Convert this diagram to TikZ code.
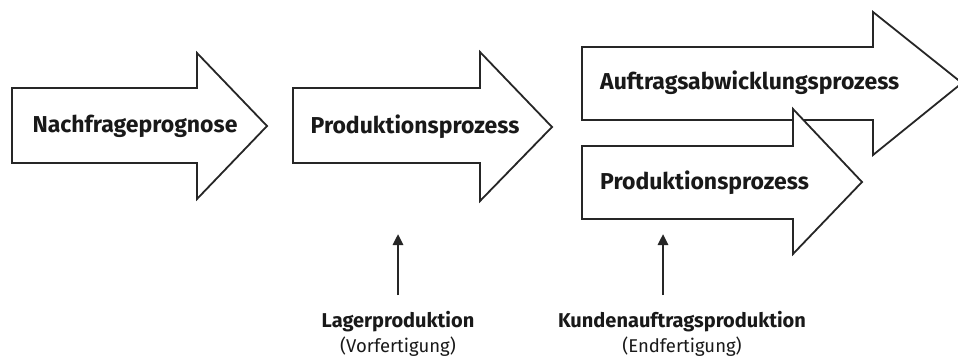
\documentclass[tikz,border=0pt]{standalone}
\usepackage{fontspec}
\setmainfont{Fira Sans}
\usetikzlibrary{arrows.meta}
\begin{document}
\begin{tikzpicture}[x=1pt,y=-1pt,
  block/.style={draw=black!85, line width=1.8pt, fill=white, line join=miter},
  title/.style={font=\fontsize{23}{26}\selectfont\bfseries, text=black!90, inner sep=0pt},
  caption/.style={font=\fontsize{18.5}{21}\selectfont, text=black!90, inner sep=0pt, align=center},
  feed/.style={line width=2.6pt, draw=black!85, -{Triangle[length=11pt,width=10pt]}}]
\clip (0,0) rectangle (958,361);
\fill[white] (0,0) rectangle (958,361);

% forecast-driven chain
\draw[block] (12,88) -- (197,88) -- (197,53) -- (267,126) -- (197,199) -- (197,163) -- (12,163) -- cycle;
\node[title] (nach) at (135,126) {Nachfrageprognose};

\draw[block] (293,88) -- (480,88) -- (480,52) -- (552,127) -- (480,201) -- (480,163) -- (293,163) -- cycle;
\node[title] (prod1) at (415,127) {Produktionsprozess};

% order-driven chain: order processing, with production drawn on top
\draw[block] (582,47) -- (873,47) -- (873,12) -- (962,83) -- (873,155) -- (873,120) -- (582,120) -- cycle;
\node[title, anchor=west] (auftrag) at (600,83) {Auftragsabwicklungsprozess};

\draw[block] (582,146) -- (793,146) -- (793,109) -- (862,182) -- (793,254) -- (793,219) -- (582,219) -- cycle;
\node[title, anchor=west] (prod2) at (600,183) {Produktionsprozess};

% decoupling labels
\node[caption] (lager) at (398,334) {{\fontsize{20}{22}\selectfont\bfseries Lagerproduktion}\\[4pt](Vorfertigung)};
\node[caption] (kunde) at (682,334) {{\fontsize{20}{22}\selectfont\bfseries Kundenauftragsproduktion}\\[4pt](Endfertigung)};

\coordinate (lagerpt) at (398,234);
\coordinate (kundept) at (663,234);
\draw[feed] (398,295) -- (lagerpt);
\draw[feed] (663,295) -- (kundept);
\end{tikzpicture}
\end{document}
